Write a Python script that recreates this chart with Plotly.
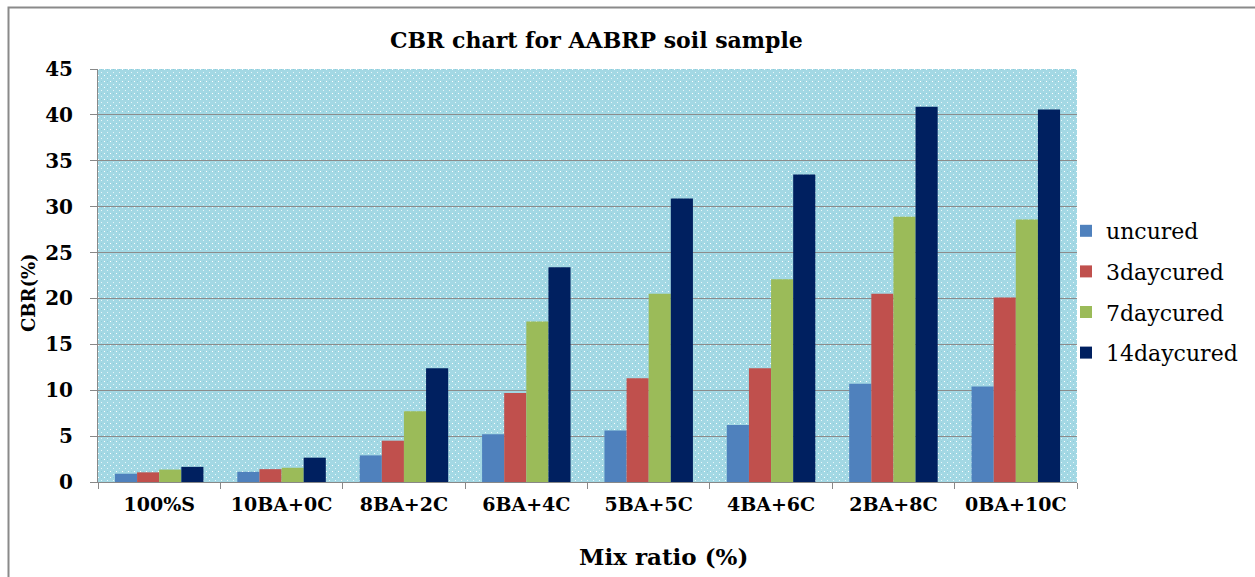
import base64
import plotly.graph_objects as go

# CBR values (%) per mix ratio and curing period
mix_ratios = ["100%S", "10BA+0C", "8BA+2C", "6BA+4C", "5BA+5C", "4BA+6C", "2BA+8C", "0BA+10C"]
uncured = [0.9, 1.1, 2.9, 5.2, 5.6, 6.2, 10.7, 10.4]
day3_cured = [1.05, 1.4, 4.5, 9.7, 11.3, 12.4, 20.5, 20.1]
day7_cured = [1.35, 1.55, 7.7, 17.5, 20.5, 22.1, 28.9, 28.6]
day14_cured = [1.65, 2.65, 12.4, 23.4, 30.9, 33.5, 40.9, 40.6]

series = [
    ("uncured", uncured, "#4F81BD"),
    ("3daycured", day3_cured, "#C0504D"),
    ("7daycured", day7_cured, "#9BBB59"),
    ("14daycured", day14_cured, "#002060"),
]

W, H = 1255, 577
L, R, T, B = 98, 178, 69, 95
PW, PH = W - L - R, H - T - B

FONT = "DejaVu Serif, Liberation Serif, serif"


def px_x(px):
    return (px - L) / PW


def px_y(py):
    return (H - B - py) / PH


# dotted light-blue fill for the plotting area
tile = (
    f'<svg xmlns="http://www.w3.org/2000/svg" width="{PW}" height="{PH}" '
    f'viewBox="0 0 {PW} {PH}" preserveAspectRatio="none">'
    '<defs><pattern id="p" width="6" height="6" patternUnits="userSpaceOnUse">'
    '<rect width="6" height="6" fill="#A3D8E4"/>'
    '<rect x="0" y="0" width="1" height="1" fill="#FFFFFF"/>'
    '<rect x="3" y="3" width="1" height="1" fill="#E8F6FA"/>'
    '<rect x="3" y="0" width="1" height="1" fill="#8FCCDA"/>'
    '</pattern></defs>'
    f'<rect width="{PW}" height="{PH}" fill="url(#p)"/></svg>'
)
bg_src = "data:image/svg+xml;base64," + base64.b64encode(tile.encode()).decode()

fig = go.Figure()
for i, (name, vals, color) in enumerate(series):
    fig.add_trace(go.Bar(
        x=mix_ratios, y=vals, name=name,
        marker=dict(color=color, line=dict(width=0)),
        legendgroup=f"g{i}",
    ))

fig.update_layout(
    width=W, height=H,
    margin=dict(l=L, r=R, t=T, b=B),
    paper_bgcolor="white",
    plot_bgcolor="#A9DAE5",
    barmode="group", bargap=0.277, bargroupgap=0,
    font=dict(family=FONT, color="black"),
    showlegend=True,
    legend=dict(
        x=px_x(1066), xanchor="left",
        y=px_y(210), yanchor="top",
        traceorder="grouped", tracegroupgap=9,
        font=dict(family=FONT, size=22, color="black"),
        bgcolor="rgba(0,0,0,0)",
    ),
    xaxis=dict(
        type="category",
        showline=True, linecolor="#888888", linewidth=1,
        ticks="outside", tickson="boundaries", ticklen=6, tickcolor="#888888",
        tickfont=dict(family=FONT, size=19, weight="bold", color="black"),
        ticklabelstandoff=5,
        showgrid=False,
    ),
    yaxis=dict(
        range=[0, 45], dtick=5,
        showline=True, linecolor="#888888", linewidth=1,
        ticks="outside", ticklen=7, tickcolor="#888888",
        tickfont=dict(family=FONT, size=20, weight="bold", color="black"),
        ticklabelstandoff=13,
        showgrid=True, gridcolor="#8C8C8C", gridwidth=1,
        zeroline=False,
    ),
    images=[dict(
        source=bg_src, xref="paper", yref="paper",
        x=0, y=1, sizex=1, sizey=1, xanchor="left", yanchor="top",
        sizing="stretch", layer="below",
    )],
    annotations=[
        dict(text="<b>CBR chart for AABRP soil sample</b>", xref="paper", yref="paper",
             x=px_x(596), y=px_y(40), xanchor="center", yanchor="middle", showarrow=False,
             font=dict(family=FONT, size=22, color="black")),
        dict(text="<b>CBR(%)</b>", xref="paper", yref="paper",
             x=px_x(28), y=px_y(293), xanchor="center", yanchor="middle",
             showarrow=False, textangle=-90,
             font=dict(family=FONT, size=18, color="black")),
        dict(text="<b>Mix ratio (%)</b>", xref="paper", yref="paper",
             x=px_x(663), y=px_y(556), xanchor="center", yanchor="middle", showarrow=False,
             font=dict(family=FONT, size=23, color="black")),
    ],
    shapes=[dict(
        type="rect", xref="paper", yref="paper",
        x0=px_x(8.5), x1=1.25, y0=-0.4, y1=px_y(7.5),
        line=dict(color="#8A8A8A", width=2), fillcolor="rgba(0,0,0,0)", layer="below",
    )],
)

fig.write_html("out.html")
